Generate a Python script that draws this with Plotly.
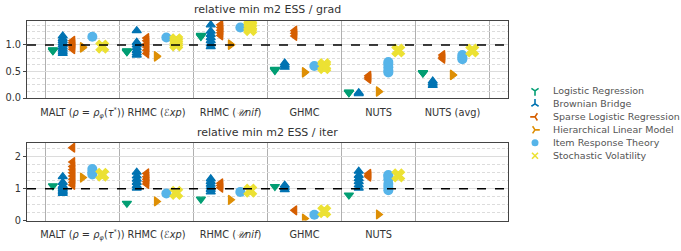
import plotly.graph_objects as go

# ---------------- data ----------------
methods_grad = ["MALT (<i>ρ</i> = <i>ρ</i><sub><i>φ</i></sub>(<i>τ</i><sup>*</sup>))",
                "RHMC (<i>ℰxp</i>)", "RHMC (<i>𝒰nif</i>)", "GHMC", "NUTS", "NUTS (avg)"]
methods_iter = methods_grad[:5]

series_names = ["Logistic Regression", "Brownian Bridge", "Sparse Logistic Regression",
                "Hierarchical Linear Model", "Item Response Theory", "Stochastic Volatility"]

# relative min m2 ESS / grad  (one list of runs per method)
grad_lr = [[0.90, 0.89, 0.91], [0.88, 0.87, 0.89], [1.17, 1.16, 1.18],
           [0.53, 0.52, 0.54], [0.105, 0.10, 0.11], [0.475, 0.47, 0.48]]
grad_bb = [[0.84, 0.88, 0.92, 0.96, 1.0, 1.04, 1.08, 1.12, 1.17],
           [1.27, 0.81, 0.85, 0.90, 0.95, 1.0, 1.05],
           [1.38, 0.97, 1.02, 1.08, 1.14, 1.20, 1.26],
           [0.58, 0.62, 0.66], [0.08, 0.10], [0.24, 0.28, 0.32]]
grad_slr = [[0.92, 0.96, 1.0, 1.04, 1.08], [0.84, 0.90, 0.96, 1.02, 1.08, 1.13],
            [1.18, 1.23, 1.28, 1.33, 1.38], [1.17, 1.22, 1.27],
            [0.36, 0.39, 0.42], [0.74, 0.77, 0.81]]
grad_hlm = [[0.96, 0.95], [0.79, 0.78], [1.0, 1.01], [0.48, 0.49], [0.12, 0.125], [0.43, 0.44]]
grad_irt = [[1.155], [1.14], [1.33], [0.605],
            [0.48, 0.52, 0.58, 0.64, 0.68], [0.73, 0.77, 0.81]]
grad_sv = [[0.97], [1.01, 1.05, 1.09], [1.30, 1.34, 1.37], [0.58, 0.62], [0.895], [0.895]]

# relative min m2 ESS / iter
iter_lr = [[1.09], [0.54], [0.67], [1.07], [0.80]]
iter_bb = [[1.38, 0.85, 0.90, 0.95, 1.0, 1.05, 1.10, 1.20],
           [1.02, 1.10, 1.20, 1.30, 1.40, 1.52],
           [0.90, 0.98, 1.06, 1.14, 1.22, 1.31],
           [0.97, 1.04, 1.11],
           [1.02, 1.12, 1.22, 1.32, 1.42, 1.55]]
iter_slr = [[2.29, 1.84, 1.70, 1.60, 1.50, 1.40, 1.30, 1.20, 1.12],
            [1.15, 1.22, 1.30, 1.38, 1.48], [1.03, 1.10, 1.17], [0.32], [1.38, 1.42, 1.47]]
iter_hlm = [[1.35], [0.60], [0.65], [0.06], [0.19]]
iter_irt = [[1.45, 1.52, 1.62], [0.85], [0.90], [0.18], [0.95, 1.05, 1.15, 1.30, 1.40, 1.43]]
iter_sv = [[1.44], [0.87], [0.94], [0.29], [1.42]]

# ---------------- style ----------------
colors = ["#029E73", "#0173B2", "#D55E00", "#DE8F05", "#56B4E9", "#ECE133"]
plot_symbols = ["triangle-down", "triangle-up", "triangle-left", "triangle-right", "circle", "x"]
plot_sizes = [8, 8, 8, 8, 10, 11]
legend_symbols = ["y-down", "y-up", "y-left", "y-right", "circle", "x-thin"]
offsets = [-0.4, -0.267, -0.133, 0.0, 0.133, 0.267]
FONT = "DejaVu Sans"

fig = go.Figure()


def add_panel(groups, xaxis, yaxis):
    for k, (name, runs_by_method) in enumerate(zip(series_names, groups)):
        xs, ys = [], []
        for i, runs in enumerate(runs_by_method):
            for v in runs:
                xs.append(i + offsets[k])
                ys.append(v)
        marker = dict(symbol=plot_symbols[k], color=colors[k], size=plot_sizes[k],
                      line=dict(color=colors[k], width=1.2 if k != 4 else 0))
        fig.add_trace(go.Scatter(x=xs, y=ys, mode="markers", name=name, marker=marker,
                                 xaxis=xaxis, yaxis=yaxis, showlegend=False))


add_panel([grad_lr, grad_bb, grad_slr, grad_hlm, grad_irt, grad_sv], "x", "y")
add_panel([iter_lr, iter_bb, iter_slr, iter_hlm, iter_irt, iter_sv], "x2", "y2")

# legend drawn on its own small axis (one row per series)
for k, name in enumerate(series_names):
    fig.add_trace(go.Scatter(
        x=[15], y=[k], mode="markers", xaxis="x3", yaxis="y3", showlegend=False,
        marker=dict(symbol=legend_symbols[k], color=colors[k], size=6 if k != 4 else 7,
                    line=dict(color=colors[k], width=1.6 if k != 4 else 0)),
        hoverinfo="skip"))
    fig.add_annotation(text=name, x=31, y=k, xref="x3", yref="y3", xanchor="left",
                       yanchor="middle", showarrow=False,
                       font=dict(size=9.5, color="#555", family=FONT))

W, H = 681, 251
xd = [27 / W, 508 / W]
top_dom = [1 - 100 / H, 1 - 21 / H]
bot_dom = [1 - 225 / H, 1 - 145.5 / H]

frame = dict(showline=True, linecolor="#444", linewidth=1, mirror=True, zeroline=False)
xcommon = dict(range=[-0.75, 5.75], showgrid=False, ticks="", ticklabelstandoff=5,
               tickfont=dict(size=9.8, color="#333", family=FONT), **frame)
ycommon = dict(showgrid=True, gridcolor="#dcdcdc", gridwidth=1, ticks="outside", ticklen=3,
               tickcolor="#444", tickfont=dict(size=9.8, color="#333", family=FONT), **frame)
hidden = dict(visible=False, showgrid=False, zeroline=False, fixedrange=True)

fig.update_layout(
    width=W, height=H, margin=dict(l=0, r=0, t=0, b=0),
    paper_bgcolor="white", plot_bgcolor="white",
    font=dict(family=FONT, color="#333"),
    showlegend=False,
    xaxis=dict(domain=xd, anchor="y", tickvals=list(range(6)), ticktext=methods_grad,
               minor=dict(tickvals=[i - 0.5 for i in range(7)], showgrid=True,
                          gridcolor="#b0b0b0", gridwidth=1.2, ticks=""),
               **xcommon),
    yaxis=dict(domain=top_dom, anchor="x", range=[0, 1.46], tickvals=[0, 0.5, 1.0],
               tickformat=".1f",
               minor=dict(dtick=0.125, showgrid=True, gridcolor="#dcdcdc", griddash="3px,2px",
                          gridwidth=0.8, ticks=""),
               **ycommon),
    xaxis2=dict(domain=xd, anchor="y2", tickvals=list(range(5)), ticktext=methods_iter,
                minor=dict(tickvals=[i - 0.5 for i in range(6)], showgrid=True,
                           gridcolor="#b0b0b0", gridwidth=1.2, ticks=""),
                **xcommon),
    yaxis2=dict(domain=bot_dom, anchor="x2", range=[0, 2.45], tickvals=[0, 1, 2],
                minor=dict(dtick=0.25, showgrid=True, gridcolor="#dcdcdc", griddash="3px,2px",
                           gridwidth=0.8, ticks=""),
                **ycommon),
    xaxis3=dict(domain=[520 / W, 1.0], anchor="y3", range=[0, 161], **hidden),
    yaxis3=dict(domain=[1 - 166 / H, 1 - 86 / H], anchor="x3", range=[5.53, -0.506], **hidden),
)

# reference line at 1
for xr, yr in (("x domain", "y"), ("x2 domain", "y2")):
    fig.add_shape(type="line", x0=0, x1=1, xref=xr, y0=1, y1=1, yref=yr,
                  line=dict(color="black", width=1.6, dash="dash"))

# panel titles
for txt, ypx in (("relative min m2 ESS / grad", 10), ("relative min m2 ESS / iter", 135)):
    fig.add_annotation(text=txt, x=(xd[0] + xd[1]) / 2, y=1 - ypx / H,
                       xref="paper", yref="paper", xanchor="center", yanchor="middle",
                       showarrow=False, font=dict(size=11, color="#333", family=FONT))

post = ("document.documentElement.style.margin='0';document.body.style.margin='0';"
        "document.body.style.overflow='hidden';"
        "var d=document.getElementById('{plot_id}');d.style.position='fixed';"
        "d.style.left='0px';d.style.top='0px';")
fig.write_html("out.html", post_script=post, config={"displayModeBar": False})
